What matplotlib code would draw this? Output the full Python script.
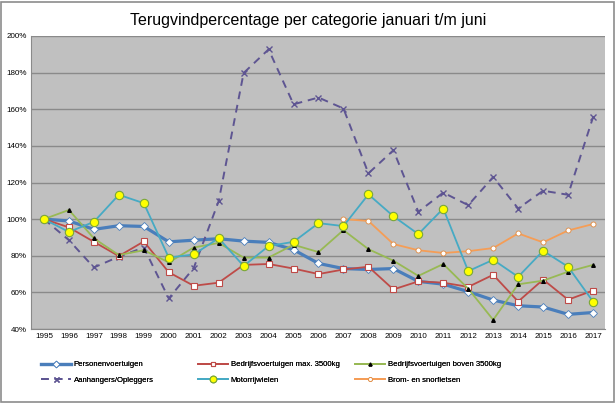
import matplotlib.pyplot as plt
from matplotlib.patches import Rectangle
import numpy as np

plt.rcParams['font.family'] = ['Liberation Sans', 'DejaVu Sans']

years = list(range(1995, 2018))

personen = [100, 99, 94.4, 96.4, 96, 87.6, 88.5, 89.3, 88, 87.3, 83.3, 75.8,
            73, 72.5, 73, 66, 64.5, 60.4, 55.8, 52.7, 52, 48, 49]
bedrijf_licht = [100, 95.5, 87.6, 79.8, 87.8, 71, 63.6, 65.3, 75, 75.5, 73, 70,
                 72.5, 74, 61.6, 66, 65.3, 63, 69.6, 55, 67, 56, 61]
bedrijf_zwaar = [100, 105, 89.5, 80.4, 83, 76.4, 84.5, 87, 79, 79, 86, 82,
                 94, 83.6, 77.3, 69, 75.5, 62, 45, 64.4, 66.4, 71.3, 75]
aanhangers = [100, 88.5, 73.6, 79.5, 84.5, 56.7, 73.3, 109.8, 179.8, 192.7, 162.7, 166.4,
              160.4, 125, 137.6, 104, 114.5, 107.6, 123, 105.8, 115.5, 113.3, 155.6]
motor = [100, 93, 98.5, 113.3, 108.7, 79, 80.7, 89.6, 74.4, 85.3, 87.6, 97.8,
         96.2, 113.5, 101.6, 91.8, 105.8, 71.6, 77.8, 68.5, 82.7, 74, 55]
brom_years = list(range(2007, 2018))
brom = [100, 99, 86.4, 83, 81.5, 82.5, 84.2, 92.2, 87.3, 93.8, 97.3]

fig = plt.figure(figsize=(6.16, 4.04), dpi=100)
fig.patches.append(Rectangle((0.002, 0.004), 0.994, 0.99, transform=fig.transFigure,
                             fill=False, edgecolor='#8c8c8c', linewidth=1.2))
ax = fig.add_axes([31 / 616, 1 - 329 / 404, (605 - 31) / 616, (329 - 36) / 404])
ax.set_facecolor('#c0c0c0')

lp = ax.plot(years, personen, color='#4a7ebb', lw=2.3, marker='D', ms=4.3,
             mfc='white', mec='#4a7ebb', mew=0.6, label='Personenvoertuigen', zorder=3)
ll = ax.plot(years, bedrijf_licht, color='#be4b48', lw=1.3, marker='s', ms=4,
             mfc='white', mec='#be4b48', mew=0.8, label='Bedrijfsvoertuigen max. 3500kg', zorder=4)
lz = ax.plot(years, bedrijf_zwaar, color='#98b954', lw=1.3, marker='^', ms=2.6,
             mfc='black', mec='black', label='Bedrijfsvoertuigen boven 3500kg', zorder=4)
la = ax.plot(years, aanhangers, color='#5e5592', lw=1.4, ls=(0, (4, 3)), marker='x', ms=4.5,
             mew=1, label='Aanhangers/Opleggers', zorder=3)
lm = ax.plot(years, motor, color='#46aac4', lw=1.3, marker='o', ms=6,
             mfc='#ffff00', mec='#7aa63a', mew=0.8, label='Motorrijwielen', zorder=5)
lb = ax.plot(brom_years, brom, color='#f59d56', lw=1.3, marker='o', ms=3.6,
             mfc='white', mec='#e08a40', mew=0.6, label='Brom- en snorfietsen', zorder=4)

ax.set_xlim(1994.48, 2017.48)
ax.set_ylim(40, 200)
ax.set_yticks(range(40, 201, 20))
ax.set_yticklabels([f'{v}%' for v in range(40, 201, 20)])
ax.set_xticks(years)
ax.tick_params(axis='both', labelsize=5.8, length=0, pad=3)
ax.grid(axis='y', color='#8a8a8a', lw=1)
ax.set_axisbelow(True)
for s in ['top', 'right']:
    ax.spines[s].set_visible(False)
ax.spines['left'].set_color('#8a8a8a')
ax.spines['bottom'].set_color('#8a8a8a')

fig.suptitle('Terugvindpercentage per categorie januari t/m juni', y=0.968, fontsize=11.5)

columns = [([lp[0], la[0]], 41), ([ll[0], lm[0]], 198), ([lz[0], lb[0]], 355)]
for hs, x0 in columns:
    leg = fig.legend(handles=hs, labels=[h.get_label() for h in hs], loc='upper left',
                     bbox_to_anchor=(x0 / 616, 1 - 361 / 404), frameon=False, fontsize=5.6,
                     handlelength=3.9, labelspacing=1.05, handletextpad=0.3,
                     borderaxespad=0, borderpad=0, markerscale=0.8)
    fig.add_artist(leg)

fig.savefig('out.png', dpi=100)
